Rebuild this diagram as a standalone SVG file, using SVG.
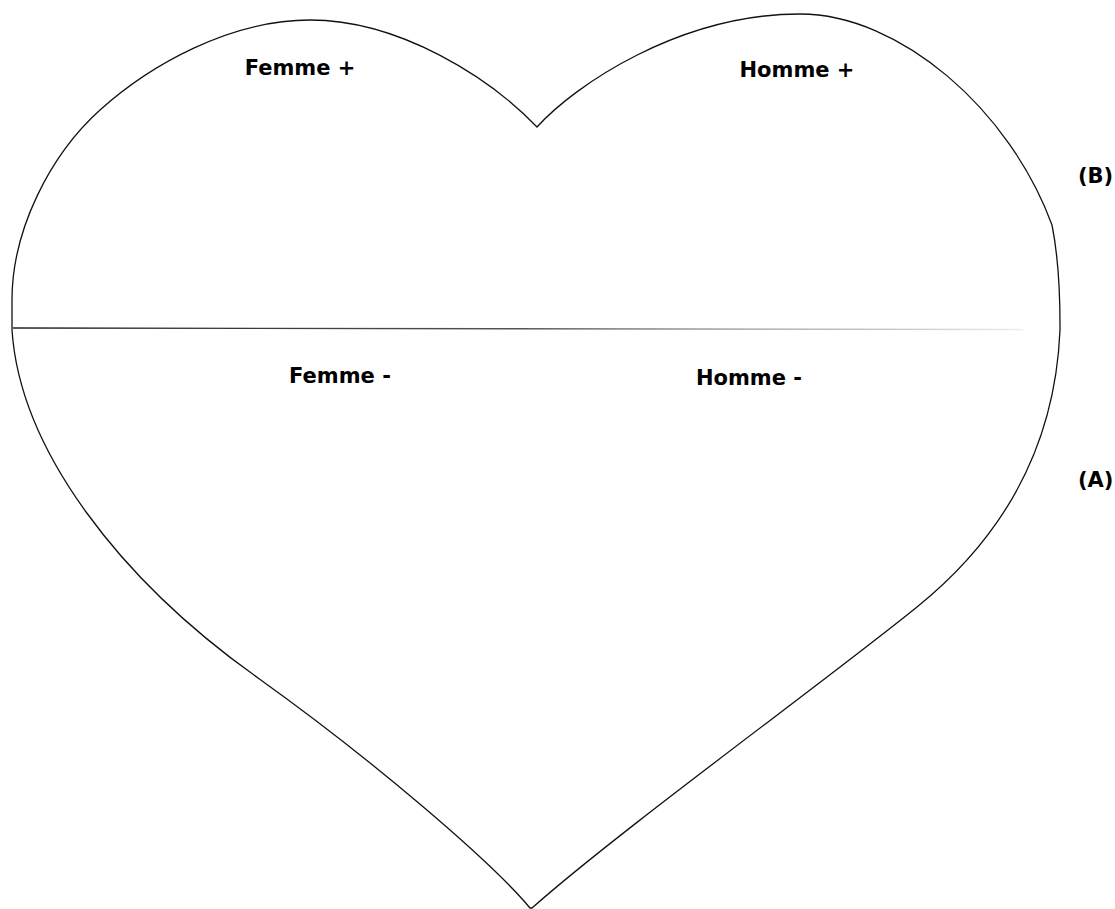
<svg xmlns="http://www.w3.org/2000/svg" width="1115" height="909" viewBox="0 0 1115 909">
<defs>
<linearGradient id="fade" x1="13" y1="0" x2="1023" y2="0" gradientUnits="userSpaceOnUse">
<stop offset="0" stop-color="#222"/>
<stop offset="0.5" stop-color="#555"/>
<stop offset="1" stop-color="#eee"/>
</linearGradient>
</defs>
<style>
.lbl{font-family:"DejaVu Sans",Verdana,sans-serif;font-weight:bold;font-size:21px;fill:#000;text-anchor:middle}
.side{font-family:"DejaVu Sans",Verdana,sans-serif;font-weight:bold;font-size:21px;fill:#000}
.outline{fill:#fff;stroke:#111;stroke-width:1.3}
</style>
<rect width="1115" height="909" fill="#fff"/>
<g id="heart">
<path class="outline" d="M537,127 C575,85 680,14 800,14 C900,14 1010,110 1052,225 C1057,250 1060,290 1060,325 L1060,330 C1055,450 1000,540 917,607 C827,680 620,830 532,908 L530,908 C490,860 370,758 258,678 C120,580 20,450 12,330 L12,300 C12,230 50,155 100,110 C150,65 230,20 310,20 C400,20 490,78 537,127 Z"/>
</g>
<g id="connectors">
<line x1="13" y1="328" x2="1023" y2="329.5" stroke="url(#fade)" stroke-width="1.4"/>
</g>
<g id="femme-plus"><text class="lbl" x="300" y="75">Femme +</text></g>
<g id="homme-plus"><text class="lbl" x="797" y="77">Homme +</text></g>
<g id="femme-minus"><text class="lbl" x="340" y="383">Femme -</text></g>
<g id="homme-minus"><text class="lbl" x="749" y="385">Homme -</text></g>
<g id="label-b"><text class="side" x="1078" y="183">(B)</text></g>
<g id="label-a"><text class="side" x="1078" y="487">(A)</text></g>
</svg>
